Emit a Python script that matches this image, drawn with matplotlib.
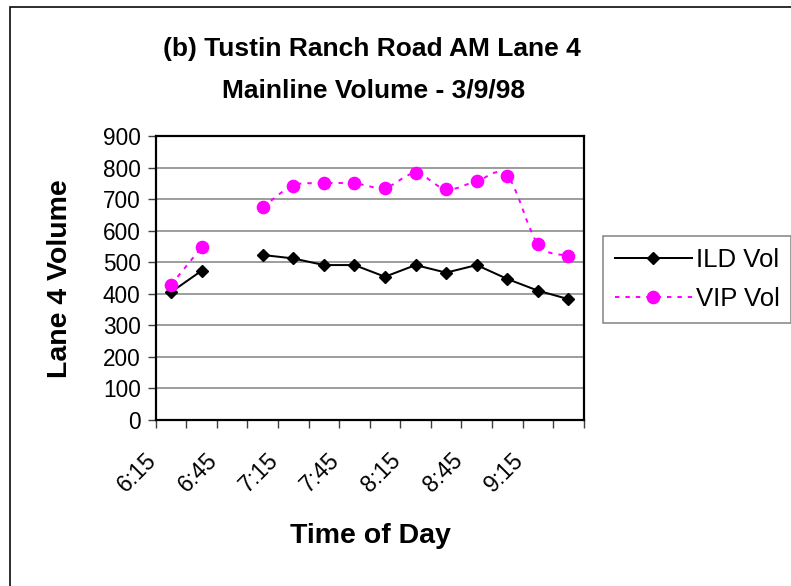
import numpy as np
import matplotlib
matplotlib.use("Agg")
import matplotlib.pyplot as plt
from matplotlib.path import Path
from matplotlib.patches import PathPatch, Rectangle
from matplotlib.lines import Line2D
from matplotlib.transforms import ScaledTranslation

plt.rcParams['font.family'] = ['Liberation Sans', 'DejaVu Sans']

# ---------------- data ----------------
times = ["6:15", "6:30", "6:45", "7:00", "7:15", "7:30", "7:45", "8:00",
         "8:15", "8:30", "8:45", "9:00", "9:15", "9:30"]
ild_vol = [405, 473, np.nan, 523, 512, 491, 491, 454, 491, 467, 491, 447, 410, 383]
vip_vol = [428, 547, np.nan, 674, 743, 750, 750, 736, 782, 731, 757, 774, 558, 521]
yticks = [0, 100, 200, 300, 400, 500, 600, 700, 800, 900]
title1 = "(b) Tustin Ranch Road AM Lane 4"
title2 = "Mainline Volume - 3/9/98"
xlabel = "Time of Day"
ylabel = "Lane 4 Volume"
legend_labels = ["ILD Vol", "VIP Vol"]

W, H, DPI = 791, 586, 100
fig = plt.figure(figsize=(W / DPI, H / DPI), dpi=DPI)
fig.patch.set_facecolor("white")

def px(v):  # pixels -> points
    return v * 72.0 / DPI

# axes placement
L, R, T, B = 155.7, 583.7, 136, 420
ax = fig.add_axes([L / W, 1 - B / H, (R - L) / W, (B - T) / H])

x = np.arange(len(times))
ax.set_xlim(-0.5, len(times) - 0.5)
ax.set_ylim(0, 900)

# gridlines
ax.set_yticks(yticks)
ax.yaxis.grid(True, color="#808080", linewidth=px(1.5))
ax.set_axisbelow(True)

# ILD series (straight lines, diamond markers)
ax.plot(x, ild_vol, color="black", linewidth=px(2.0),
        marker="D", markersize=6.3, markerfacecolor="black",
        markeredgecolor="black", zorder=3)

# VIP series: smoothed dotted line + circle markers
vip = np.array(vip_vol, dtype=float)
valid = ~np.isnan(vip)
segments = []
cur = []
for i in range(len(vip)):
    if valid[i]:
        cur.append(i)
    else:
        if cur:
            segments.append(cur)
        cur = []
if cur:
    segments.append(cur)

for seg in segments:
    pts = np.column_stack([x[seg], vip[seg]])
    verts = [tuple(pts[0])]
    codes = [Path.MOVETO]
    n = len(pts)
    for k in range(n - 1):
        p0 = pts[k - 1] if k > 0 else pts[k]
        p1 = pts[k]
        p2 = pts[k + 1]
        p3 = pts[k + 2] if k + 2 < n else pts[k + 1]
        c1 = p1 + (p2 - p0) / 6.0
        c2 = p2 - (p3 - p1) / 6.0
        verts += [tuple(c1), tuple(c2), tuple(p2)]
        codes += [Path.CURVE4, Path.CURVE4, Path.CURVE4]
    patch = PathPatch(Path(verts, codes), facecolor="none", edgecolor="#FF00FF",
                      linewidth=px(2.0), linestyle=(0, (2.2, 3.0)), zorder=3)
    ax.add_patch(patch)

ax.plot(x, vip_vol, linestyle="none", marker="o", markersize=8.8,
        markerfacecolor="#FF00FF", markeredgecolor="#FF00FF", zorder=4)

# spines
for s in ax.spines.values():
    s.set_linewidth(px(2.2))
    s.set_color("black")

# y ticks
ax.tick_params(axis="y", direction="out", length=px(8), width=px(1.4),
               color="#404040", pad=px(7), labelsize=16.3)

# x ticks: major at category boundaries (no labels), minor at centers (labels)
ax.set_xticks(np.arange(-0.5, len(times), 1.0))
ax.set_xticklabels([])
ax.tick_params(axis="x", which="major", direction="out", length=px(8),
               width=px(1.4), color="#404040")
label_idx = list(range(0, len(times), 2))
ax.set_xticks(x[label_idx], minor=True)
ax.set_xticklabels([times[i] for i in label_idx], minor=True,
                   rotation=45, ha="right", va="top", fontsize=16.6)
ax.tick_params(axis="x", which="minor", length=0, pad=px(29))
offset = ScaledTranslation(-10 / DPI, 0, fig.dpi_scale_trans)
for lab in ax.get_xticklabels(minor=True):
    lab.set_transform(lab.get_transform() + offset)

# titles and axis labels
fig.text(372 / W, 1 - 56 / H, title1, ha="center", va="baseline",
         fontsize=19.0, fontweight="bold")
fig.text(374 / W, 1 - 97 / H, title2, ha="center", va="baseline",
         fontsize=19.0, fontweight="bold")
fig.text(370 / W, 1 - 536 / H, xlabel, ha="center", va="center",
         fontsize=20.5, fontweight="bold")
fig.text(60 / W, 1 - 279 / H, ylabel, ha="center", va="center",
         rotation=90, fontsize=20.5, fontweight="bold")

# legend
h1 = Line2D([], [], color="black", linewidth=px(2.0), marker="D",
            markersize=6.3, markerfacecolor="black", markeredgecolor="black")
h2 = Line2D([], [], color="#FF00FF", linewidth=px(2.0), linestyle=(0, (2.2, 3.0)),
            marker="o", markersize=8.8, markerfacecolor="#FF00FF",
            markeredgecolor="#FF00FF")
leg = fig.legend([h1, h2], legend_labels, loc="upper left",
                 bbox_to_anchor=(603 / W, 1 - 236 / H), borderaxespad=0,
                 fontsize=18.5, frameon=True, fancybox=False, shadow=False,
                 handlelength=3.0, handletextpad=0.15, borderpad=0.45,
                 labelspacing=0.6)
leg.get_frame().set_edgecolor("#606060")
leg.get_frame().set_linewidth(px(1.5))

# outer chart border (extends beyond the canvas on right and bottom)
fig.add_artist(Rectangle((10 / W, -0.05), 1.1, (1 - 7 / H) + 0.05,
                         transform=fig.transFigure, facecolor="none",
                         edgecolor="black", linewidth=px(1.6)))

fig.savefig("out.png", dpi=DPI)
